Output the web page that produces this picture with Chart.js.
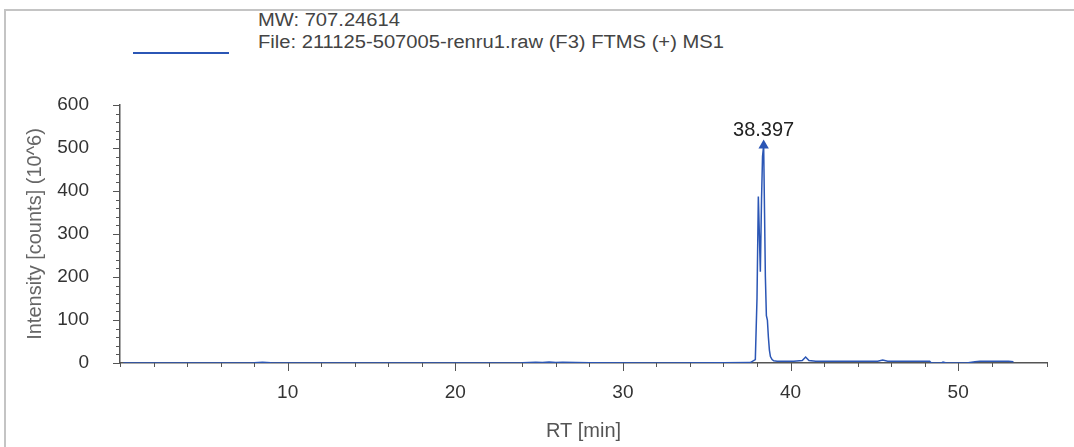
<!DOCTYPE html>
<html>
<head>
<meta charset="utf-8">
<script src="https://cdn.jsdelivr.net/npm/chart.js@4.4.1/dist/chart.umd.min.js"></script>
<style>
    html, body { margin: 0; padding: 0; background: #fff; }
    #wrap { position: relative; width: 1074px; height: 447px; overflow: hidden; }
    #frame { position: absolute; left: 4px; top: 9px; width: 1100px; height: 460px;
             border-top: 2px solid #c4c4c4; border-left: 2px solid #c4c4c4; }
    #legend { position: absolute; left: 133px; top: 9px; font-family: "Liberation Sans", Arial, sans-serif;
              font-size: 18px; color: #444; }
    #legend .swatch { position: absolute; left: 0; top: 43px; width: 96px; height: 2px; background: #2b56b5; }
    #legend .txt { position: absolute; left: 125px; top: 0; white-space: nowrap; line-height: 22px;
                   transform: scaleX(1.12); transform-origin: 0 0; }
    canvas { position: absolute; left: 0; top: 0; }
</style>
</head>
<body>
<div id="wrap">
    <div id="frame"></div>
    <div id="legend">
        <div class="swatch"></div>
        <div class="txt">MW: 707.24614<br>File: 211125-507005-renru1.raw (F3) FTMS (+) MS1</div>
    </div>
    <canvas id="xicChart" width="1074" height="447"></canvas>
</div>
<script>
// retention time (min) and intensity (counts x 10^6)
const rtValues = [
    0.2, 2, 4, 6, 8, 8.5, 9, 12, 16, 20, 24, 24.8, 25.2, 25.6, 26, 26.4, 28, 32, 36,
    37.6, 37.9, 38.0, 38.08, 38.14, 38.2, 38.27, 38.33, 38.397, 38.45, 38.5, 38.56,
    38.62, 38.68, 38.74, 38.8, 38.9, 39.0, 39.2, 39.6, 40.2, 40.7, 40.9, 41.1, 41.5,
    42.5, 43.5, 44.5, 45.2, 45.5, 45.8, 46.5, 47.5, 48.3, 48.4, 49.0, 49.1, 49.3,
    50.5, 51.0, 51.3, 52.0, 53.0, 53.3
];
const intensityValues = [
    0, 0, 0, 0, 0.5, 2, 0.5, 0, 0, 0, 0.5, 2, 1, 2.5, 1, 2, 0.5, 0, 0.5,
    1, 8, 150, 387, 300, 212, 380, 480, 506, 350, 200, 110,
    100, 60, 30, 15, 8, 5, 4, 4, 4, 6, 14, 6, 4,
    4, 4, 4, 4, 7, 4, 4, 4, 4, 0, 0, 2, 0,
    0, 3, 4, 4, 4, 3
];
const peakRT = 38.397;
const peakLabel = "38.397";
const xMajorTicks = [10, 20, 30, 40, 50];
const yMajorTicks = [0, 100, 200, 300, 400, 500, 600];

const lineColor = "#2b56b5";
const axisColor = "#555";
const fontFamily = "'Liberation Sans', Arial, sans-serif";

const points = rtValues.map((rt, i) => ({ x: rt, y: intensityValues[i] }));
const peakIndex = rtValues.indexOf(peakRT);

// tick marks: long on labelled values, short in between
const tickMarks = {
    id: "tickMarks",
    afterDraw(chart) {
        const ctx = chart.ctx;
        const xs = chart.scales.x, ys = chart.scales.y;
        ctx.save();
        ctx.strokeStyle = axisColor;
        ctx.lineWidth = 1;
        xs.ticks.forEach(t => {
            const px = Math.round(xs.getPixelForValue(t.value)) + 0.5;
            const len = xMajorTicks.includes(t.value) ? 8 : 4;
            ctx.beginPath();
            ctx.moveTo(px, xs.top);
            ctx.lineTo(px, xs.top + len);
            ctx.stroke();
        });
        ys.ticks.forEach(t => {
            const py = Math.round(ys.getPixelForValue(t.value)) + 0.5;
            const len = yMajorTicks.includes(t.value) ? 7 : 4;
            ctx.beginPath();
            ctx.moveTo(ys.right - len, py);
            ctx.lineTo(ys.right, py);
            ctx.stroke();
        });
        ctx.restore();
    }
};

// retention time label above the apex
const peakText = {
    id: "peakText",
    afterDatasetsDraw(chart) {
        const pt = chart.getDatasetMeta(0).data[peakIndex];
        const ctx = chart.ctx;
        ctx.save();
        ctx.font = "20px " + fontFamily;
        ctx.fillStyle = "#222";
        ctx.textAlign = "center";
        ctx.textBaseline = "bottom";
        ctx.fillText(peakLabel, pt.x, pt.y - 5);
        ctx.restore();
    }
};

new Chart(document.getElementById("xicChart").getContext("2d"), {
    type: "line",
    data: {
        datasets: [{
            data: points,
            borderColor: lineColor,
            backgroundColor: lineColor,
            borderWidth: 1.5,
            tension: 0,
            pointStyle: "triangle",
            pointRadius: ctx => ctx.dataIndex === peakIndex ? 6 : 0,
            pointBorderWidth: 0,
            pointBackgroundColor: lineColor
        }]
    },
    options: {
        responsive: false,
        animation: false,
        layout: { padding: { top: 105, right: 27, left: 0, bottom: 0 } },
        plugins: { legend: { display: false }, tooltip: { enabled: false } },
        scales: {
            x: {
                type: "linear",
                min: 0,
                max: 55.3,
                afterFit(scale) { scale.height = 84; },
                grid: { display: false },
                border: { display: true, color: axisColor, width: 1.5 },
                ticks: {
                    stepSize: 2,
                    autoSkip: false,
                    maxRotation: 0,
                    padding: 10,
                    color: "#333",
                    font: { family: fontFamily, size: 19 },
                    callback: v => xMajorTicks.includes(v) ? String(v) : ""
                },
                title: {
                    display: true,
                    text: "RT [min]",
                    color: "#555",
                    font: { family: fontFamily, size: 20 },
                    padding: { top: 0 }
                }
            },
            y: {
                min: 0,
                max: 600,
                afterFit(scale) { scale.width = 120; },
                grid: { display: false },
                border: { display: true, color: axisColor, width: 1.5 },
                ticks: {
                    stepSize: 20,
                    autoSkip: false,
                    padding: 23,
                    color: "#333",
                    font: { family: fontFamily, size: 19 },
                    callback: v => yMajorTicks.includes(v) ? String(v) : ""
                },
                title: {
                    display: true,
                    text: "Intensity [counts] (10^6)",
                    color: "#666",
                    font: { family: fontFamily, size: 20 },
                    padding: { top: 23 }
                }
            }
        }
    },
    plugins: [tickMarks, peakText]
});
</script>
</body>
</html>
